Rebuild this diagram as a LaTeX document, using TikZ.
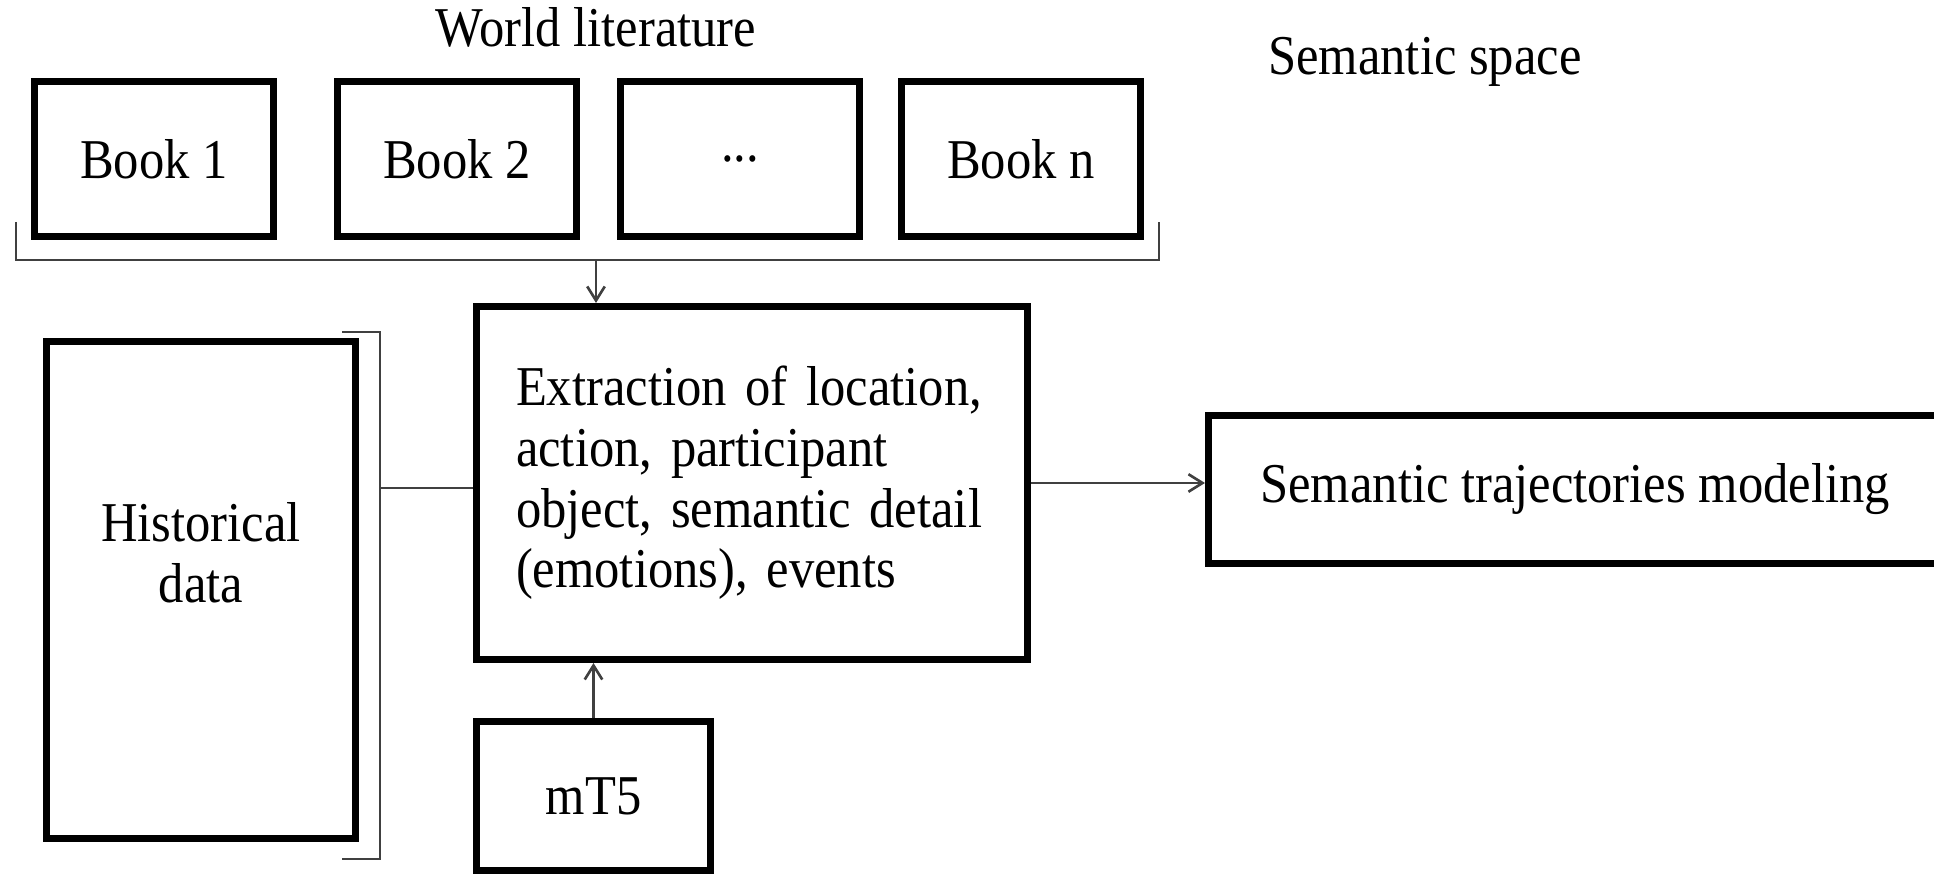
\documentclass[tikz,border=0pt]{standalone}
\usepackage{fontspec}
\setmainfont{Liberation Serif}[FakeStretch=0.9]
\usetikzlibrary{positioning,arrows.meta}

\begin{document}
\begin{tikzpicture}[x=0.02cm,y=-0.02cm,
  every node/.style={font=\fontsize{32}{34.5}\selectfont},
  box/.style={draw, line width=4pt, inner sep=0pt, align=center},
  wire/.style={draw=black!75, line width=1.5pt},
  tip/.style={wire, -{Straight Barb[length=8pt,width=10pt]}}]
  \def\px{0.02cm} % one pixel of the original
  \def\bw{239} % width of each book box
  \def\bh{155} % height of each book box
  \clip (0,0) rectangle (1934,874);
  % the books
  \foreach \x/\t/\n in {154/Book 1/b1, 457/Book 2/b2, 740/{...}/b3, 1021/Book n/bn} {
    \node[box, minimum width=\bw*\px, minimum height=\bh*\px] (\n) at (\x,159) {\t};
  }
  \node[anchor=base] (world) at (596,47) {World literature};
  \node[anchor=base west] (space) at (1262,75) {Semantic space};
  % main boxes
  \node[box, minimum width=551*\px, minimum height=353*\px, text width=472*\px, align=left] (extr) at (752,483)
    {Extraction of location,\\ action, participant\\ object, semantic detail\\ (emotions), events};
  \node[box, minimum width=309*\px, minimum height=497*\px, text depth=75*\px] (hist) at (201,590) {Historical\\ data};
  \node[box, minimum width=234*\px, minimum height=149*\px] (mt5) at (593.5,796) {mT5};
  \node[box, minimum width=733*\px, minimum height=148*\px] (traj) at (1575,489.5) {Semantic trajectories modeling};
  % brackets
  \draw[wire] (16,222) |- (1159,260) -- (1159,222);
  \coordinate (tb) at (596,260);
  \draw[wire] (342,332) -| (380,859) -- (342,859);
  \coordinate (hb) at (380,488);
  % connectors
  \draw[tip] (tb) -- (tb |- extr.north);
  \draw[wire] (hb) -- (hb -| extr.west);
  \draw[tip] (mt5.north) -- (mt5.north |- extr.south);
  \draw[tip] (extr.east) -- (extr.east -| traj.west);
\end{tikzpicture}
\end{document}
